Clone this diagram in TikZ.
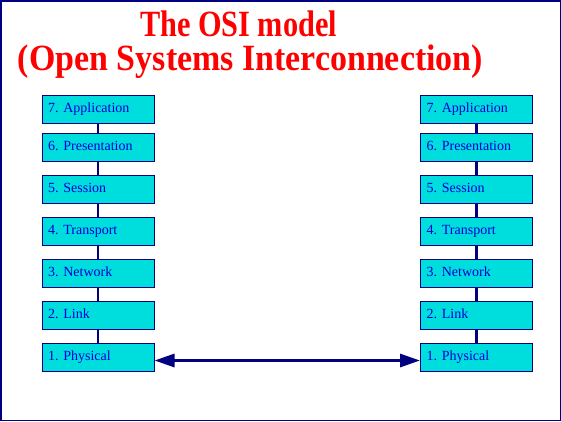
\documentclass[tikz,border=0pt]{standalone}
\usepackage{fontspec}
\usepackage{graphicx}
\setmainfont{Liberation Serif}
\usetikzlibrary{arrows.meta}
\definecolor{navy}{RGB}{0,0,128}
\definecolor{boxfill}{RGB}{0,221,221}
\definecolor{txtblue}{RGB}{0,0,210}
\begin{document}
\begin{tikzpicture}[x=1pt,y=-1pt,
  layer/.style={draw=navy,fill=boxfill,line width=1pt,minimum width=112pt,minimum height=28pt,inner sep=0pt},
  lbl/.style={anchor=base west,inner sep=0pt,text=txtblue,font=\fontsize{14}{16}\selectfont},
  link/.style={draw=navy,line width=2.8pt},
  ttl/.style={text=red,font=\bfseries\fontsize{37}{40}\selectfont,anchor=base,inner sep=0pt}]
\useasboundingbox (0,0) rectangle (561,421);
\draw[navy,line width=1.5pt] (0.75,0.75) rectangle (560.25,420.25);
\node[ttl] (t1) at (238.5,36) {\resizebox{197pt}{\height}{The OSI model}};
\node[ttl] (t2) at (250.5,70) {\resizebox{465pt}{\height}{(Open Systems Interconnection)}};
\foreach \side/\cx in {L/98,R/476.5}{
  \foreach \i/\y/\name in {7/109/Application,6/147.5/Presentation,5/189/Session,4/231/Transport,3/273/Network,2/315/Link,1/357.5/Physical}{
    \node[layer] (\side\i) at (\cx,\y) {};
    \node[lbl] (\side\i t) at ([xshift=6.5pt,yshift=-3pt]\side\i.west) {\i. \name};
  }
  \foreach \a/\b in {7/6,6/5,5/4,4/3,3/2,2/1}{
    \draw[link] (\side\a.south) -- (\side\b.north);
  }
}
\draw[link,line width=3pt,{Triangle[length=20pt,width=13pt]}-{Triangle[length=20pt,width=13pt]}] ([yshift=-3pt]L1.east) -- ([yshift=-3pt]R1.west);
\end{tikzpicture}
\end{document}
